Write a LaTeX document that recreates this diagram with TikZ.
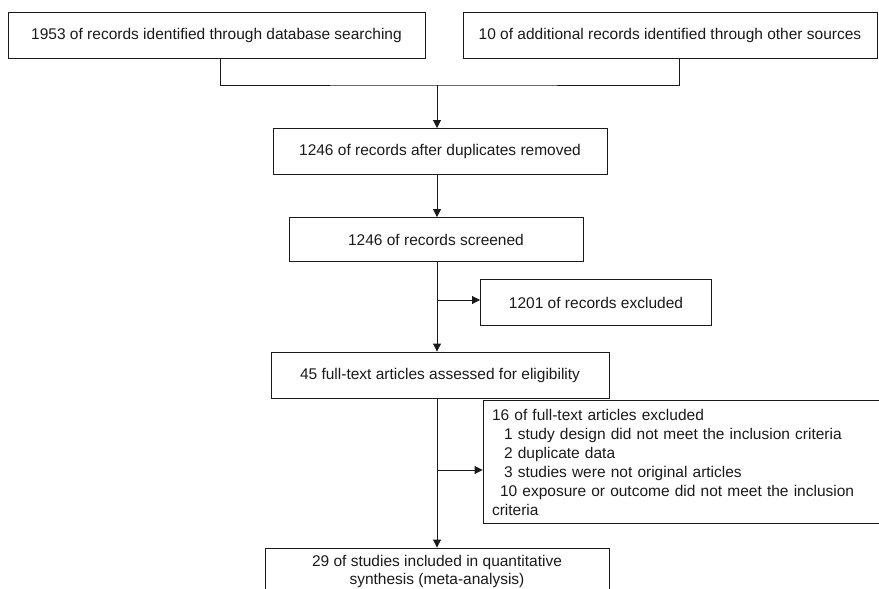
\documentclass[tikz,border=0pt]{standalone}
\usepackage{fontspec}
\setmainfont{Liberation Sans}
\usepackage{xcolor}
\usepackage{tikz}
\usetikzlibrary{arrows.meta,positioning,calc}
\definecolor{prismaInk}{HTML}{1A1A1A}
\tikzset{
  stage/.style={
    rectangle,
    draw=prismaInk,
    line width=0.9pt,
    minimum height=46pt,
    align=center,
    inner sep=0pt,
    text=prismaInk,
    font=\fontsize{15.5}{19}\selectfont
  },
  stageNote/.style={
    stage,
    align=left,
    inner xsep=9pt,
    font=\fontsize{15.5}{19}\selectfont
  },
  link/.style={
    line width=0.9pt,
    draw=prismaInk
  },
  arrow/.style={
    -{Triangle[length=8pt,width=8pt]},
    line width=0.9pt,
    draw=prismaInk
  }
}

\begin{document}
\begin{tikzpicture}[x=1pt,y=-1pt]
  \useasboundingbox (0,0) rectangle (879,589);
  \clip (0,0) rectangle (879,589);
  \node[stage,minimum width=417pt] (database) at (216.5,35) {1953 of records identified through database searching};
  \node[stage,minimum width=414pt] (other) at (670,35) {10 of additional records identified through other sources};
  \node[stage,minimum width=334pt,minimum height=46pt] (dedup) at (440,151.5) {1246 of records after duplicates removed};
  \node[stage,minimum width=294pt,minimum height=44pt] (screened) at (436,239.5) {1246 of records screened};
  \node[stage,minimum width=231pt] (excluded) at (596,302.5) {1201 of records excluded};
  \node[stage,minimum width=338pt] (fulltext) at (440,375) {45 full-text articles assessed for eligibility};
  \node[stageNote,text width=378pt,minimum height=123pt] (ftexcl) at (681,462) {16 of full-text articles excluded\\
    \hspace*{12pt}1 study design did not meet the inclusion criteria\\
    \hspace*{12pt}2 duplicate data\\
    \hspace*{12pt}3 studies were not original articles\\
    \hspace*{8pt}10 exposure or outcome did not meet the inclusion\\
    criteria};
  \node[stage,minimum width=344pt,font=\fontsize{15.5}{18}\selectfont] (included) at (437,571) {29 of studies included in quantitative\\synthesis (meta-analysis)};
  \coordinate (merge) at (437,85);
  \coordinate (split1) at (437,300);
  \coordinate (split2) at (437,470);
  \draw[link] ([xshift=4pt]database.south) |- (merge) -| ([xshift=9pt]other.south);
  \draw[arrow] (merge) -- (merge |- dedup.north);
  \draw[arrow] (merge |- dedup.south) -- (merge |- screened.north);
  \draw[arrow] (merge |- screened.south) -- (merge |- fulltext.north);
  \draw[arrow] (split1) -- (split1 -| excluded.west);
  \draw[arrow] (merge |- fulltext.south) -- (included.north);
  \draw[arrow] (split2) -- (split2 -| ftexcl.west);
\end{tikzpicture}
\end{document}
